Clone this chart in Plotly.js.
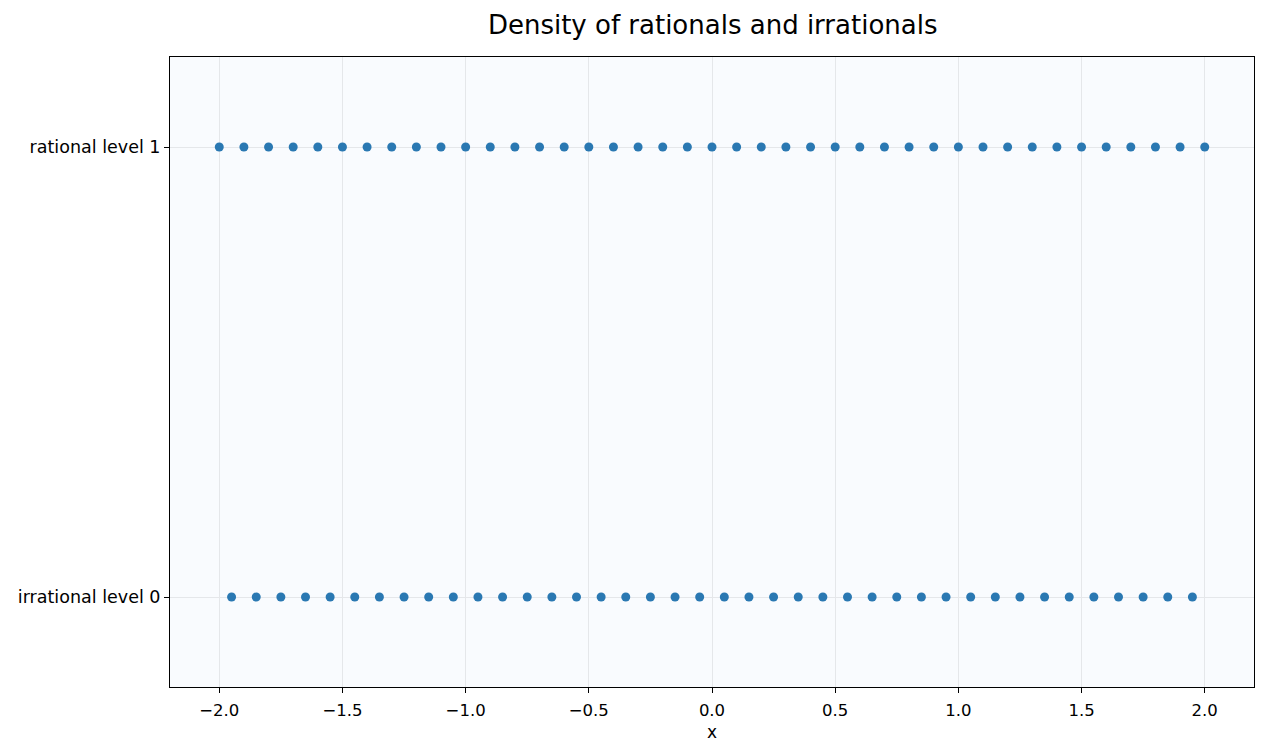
<!DOCTYPE html>
<html>
<head>
<meta charset="utf-8">
<script src="https://cdn.plot.ly/plotly-3.0.1.min.js"></script>
<style>
  body { margin: 0; background: #ffffff; }
  #chart { width: 1267px; height: 755px; }
</style>
</head>
<body>
<div id="chart"></div>
<script>
// Points on each level
var rationalX = [-2.0, -1.9, -1.8, -1.7, -1.6, -1.5, -1.4, -1.3, -1.2, -1.1,
                 -1.0, -0.9, -0.8, -0.7, -0.6, -0.5, -0.4, -0.3, -0.2, -0.1,
                 0.0, 0.1, 0.2, 0.3, 0.4, 0.5, 0.6, 0.7, 0.8, 0.9,
                 1.0, 1.1, 1.2, 1.3, 1.4, 1.5, 1.6, 1.7, 1.8, 1.9, 2.0];
var irrationalX = [-1.95, -1.85, -1.75, -1.65, -1.55, -1.45, -1.35, -1.25, -1.15, -1.05,
                   -0.95, -0.85, -0.75, -0.65, -0.55, -0.45, -0.35, -0.25, -0.15, -0.05,
                   0.05, 0.15, 0.25, 0.35, 0.45, 0.55, 0.65, 0.75, 0.85, 0.95,
                   1.05, 1.15, 1.25, 1.35, 1.45, 1.55, 1.65, 1.75, 1.85, 1.95];
var rationalLevel = rationalX.map(function () { return 1; });
var irrationalLevel = irrationalX.map(function () { return 0; });

var levelLabels = ["irrational level 0", "rational level 1"];
var xTicks = [-2.0, -1.5, -1.0, -0.5, 0.0, 0.5, 1.0, 1.5, 2.0];
var xTickText = ["\u22122.0", "\u22121.5", "\u22121.0", "\u22120.5", "0.0", "0.5", "1.0", "1.5", "2.0"];

var dotStyle = { color: "#2a78b2", size: 9, opacity: 1, line: { width: 0 } };

var data = [
  { type: "scatter", mode: "markers", x: rationalX, y: rationalLevel,
    marker: dotStyle, showlegend: false, hoverinfo: "x" },
  { type: "scatter", mode: "markers", x: irrationalX, y: irrationalLevel,
    marker: dotStyle, showlegend: false, hoverinfo: "x" }
];

var layout = {
  width: 1267,
  height: 755,
  margin: { l: 170, r: 13, t: 57, b: 68 },
  paper_bgcolor: "#ffffff",
  plot_bgcolor: "#f9fbfe",
  font: { family: "DejaVu Sans", size: 17, color: "#000000" },
  title: {
    text: "Density of rationals and irrationals",
    font: { size: 26, color: "#000000" },
    x: 0.5625, xanchor: "center",
    y: 0.967, yanchor: "middle"
  },
  xaxis: {
    range: [-2.2, 2.2],
    tickvals: xTicks,
    ticktext: xTickText,
    ticks: "outside", ticklen: 5, tickcolor: "#000000",
    tickfont: { size: 16.5 },
    ticklabelstandoff: 3,
    showgrid: true, gridcolor: "#e5e7ea", gridwidth: 1,
    zeroline: false,
    showline: true, linecolor: "#000000", linewidth: 1, mirror: true,
    title: { text: "x", font: { size: 17 }, standoff: 7 }
  },
  yaxis: {
    range: [-0.2, 1.2],
    tickvals: [0, 1],
    ticktext: levelLabels,
    ticks: "outside", ticklen: 5, tickcolor: "#000000",
    tickfont: { size: 17.5 },
    showgrid: true, gridcolor: "#e5e7ea", gridwidth: 1,
    zeroline: false,
    showline: true, linecolor: "#000000", linewidth: 1, mirror: true
  }
};

Plotly.newPlot("chart", data, layout, { displayModeBar: false });
</script>
</body>
</html>
